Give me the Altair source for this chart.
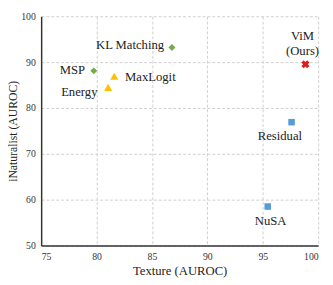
import altair as alt
import pandas as pd

methods = ["KL Matching", "MSP", "MaxLogit", "Energy", "ViM", "Residual", "NuSA"]
texture = [86.8, 79.75, 81.6, 81.05, 98.85, 97.6, 95.45]
inat = [93.2, 88.1, 86.9, 84.5, 89.55, 76.9, 58.5]
shapes = ["diamond", "diamond", "triangle-up", "triangle-up", "cross", "square", "square"]
colors = ["#70AD47", "#70AD47", "#FFC000", "#FFC000", "#E31A1C", "#5B9BD5", "#5B9BD5"]
x_ticks = [75, 80, 85, 90, 95, 100]
y_ticks = [50, 60, 70, 80, 90, 100]

df = pd.DataFrame({"m": methods, "x": texture, "y": inat, "shape": shapes, "color": colors})

FONT = "Liberation Serif"
xs = alt.Scale(domain=[75, 100], nice=False)
ys = alt.Scale(domain=[50, 100], nice=False)

base = alt.Chart(df).encode(
    x=alt.X("x:Q", scale=xs, title="Texture (AUROC)",
            axis=alt.Axis(values=x_ticks, grid=True, gridDash=[3, 2], gridColor="#cfcfcf",
                          ticks=False, labelPadding=6, labelFontSize=10, titleFontSize=13,
                          titlePadding=4, domainColor="#333333", domainWidth=1.5,
                          labelColor="#333333", titleColor="#222222", labelFont=FONT, titleFont=FONT,
                          titleFontWeight="normal")),
    y=alt.Y("y:Q", scale=ys, title="iNaturalist (AUROC)",
            axis=alt.Axis(values=y_ticks, grid=True, gridDash=[3, 2], gridColor="#cfcfcf",
                          ticks=False, labelPadding=6, labelFontSize=10, titleFontSize=12,
                          titlePadding=1, domainColor="#333333", domainWidth=1.5,
                          labelColor="#333333", titleColor="#222222", labelFont=FONT, titleFont=FONT,
                          titleFontWeight="normal")),
)

def pts(shape, size, angle=0):
    return base.transform_filter(alt.datum.shape == shape).mark_point(
        filled=True, size=size, shape=shape, angle=angle, opacity=1
    ).encode(color=alt.Color("color:N", scale=None))

diam = pts("diamond", 50)
tri = pts("triangle-up", 70)
sq = pts("square", 45)
cross = pts("cross", 70, 45)

def lab(name, text, align, dx, dy):
    return base.transform_filter(alt.datum.m == name).mark_text(
        align=align, baseline="middle", dx=dx, dy=dy, font=FONT, fontSize=13,
        color="#222222", lineHeight=16
    ).encode(text=alt.value(text))

labels = [
    lab("KL Matching", "KL Matching", "right", -8, -2),
    lab("MSP", "MSP", "right", -9, -1),
    lab("MaxLogit", "MaxLogit", "left", 11, 1),
    lab("Energy", "Energy", "right", -11, 5),
    lab("ViM", ["ViM", "(Ours)"], "center", -3, -29),
    lab("Residual", "Residual", "center", -12, 14),
    lab("NuSA", "NuSA", "center", 3, 15),
]

chart = alt.layer(diam, tri, sq, cross, *labels).properties(
    width=284, height=235,
    autosize=alt.AutoSizeParams(type="none"),
    padding={"left": 34, "top": 5, "right": 7, "bottom": 37},
).configure_view(stroke=None)

chart.save("out.html", embed_options={"renderer": "svg", "actions": False})
